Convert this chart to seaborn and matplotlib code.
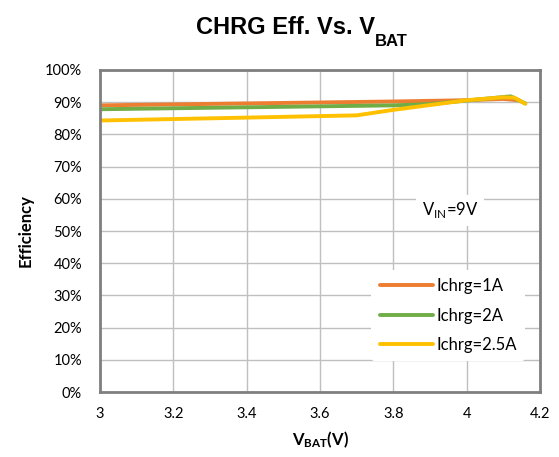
import numpy as np
import pandas as pd
import matplotlib
matplotlib.use("Agg")
import matplotlib.pyplot as plt
import seaborn as sns

# Data
vbat_1a = [3.0, 3.4, 3.8, 4.0, 4.1, 4.14]
eff_1a = [89.0, 89.6, 90.2, 90.6, 91.0, 90.6]

vbat_2a = [3.0, 3.4, 3.8, 3.9, 4.0, 4.12, 4.16]
eff_2a = [87.8, 88.4, 89.0, 89.4, 90.5, 91.8, 89.6]

vbat_25a = [3.0, 3.4, 3.7, 3.8, 4.0, 4.1, 4.13, 4.16]
eff_25a = [84.3, 85.2, 85.9, 87.6, 90.6, 91.5, 91.4, 89.5]

series_names = ["Ichrg=1A", "Ichrg=2A", "Ichrg=2.5A"]
palette = ["#ED7D31", "#70AD47", "#FFC000"]

df = pd.concat([
    pd.DataFrame({"vbat": vbat_1a, "eff": eff_1a, "series": series_names[0]}),
    pd.DataFrame({"vbat": vbat_2a, "eff": eff_2a, "series": series_names[1]}),
    pd.DataFrame({"vbat": vbat_25a, "eff": eff_25a, "series": series_names[2]}),
])

sns.set_theme(style="white")
plt.rcParams['font.family'] = ['Lato', 'DejaVu Sans']
plt.rcParams['text.color'] = 'black'
plt.rcParams['axes.labelcolor'] = 'black'
plt.rcParams['mathtext.fontset'] = 'custom'
plt.rcParams['mathtext.rm'] = 'Lato'
plt.rcParams['mathtext.bf'] = 'Lato:bold'

fig = plt.figure(figsize=(5.59, 4.57), dpi=100)
ax = fig.add_axes([0.179, 0.142, 0.787, 0.705])

sns.lineplot(data=df, x="vbat", y="eff", hue="series", palette=palette,
             linewidth=2.8, sort=False, estimator=None, ax=ax)

ax.set_xlim(3, 4.2)
ax.set_ylim(0, 100)
ax.set_xticks(np.arange(3, 4.21, 0.2))
ax.set_xticklabels(["3", "3.2", "3.4", "3.6", "3.8", "4", "4.2"])
ax.set_yticks(np.arange(0, 101, 10))
ax.set_yticklabels([f"{v}%" for v in range(0, 101, 10)])
ax.tick_params(axis='both', labelsize=10.5, colors='black', length=0)
ax.tick_params(axis='y', pad=13)
ax.tick_params(axis='x', pad=11)
ax.grid(True, color='#BFBFBF', linewidth=1.0)
for s in ax.spines.values():
    s.set_color('#7F7F7F')
    s.set_linewidth(2.0)

ax.set_xlabel(r"$\mathbf{V_{BAT}}$(V)", fontsize=12, fontweight='bold', labelpad=6)
ax.set_ylabel("Efficiency", fontsize=12, fontweight='bold', labelpad=8)

# title with manual subscript
title_font = ['Liberation Sans', 'DejaVu Sans']
t = fig.text(0.35, 0.925, "CHRG Eff. Vs. V", ha='left', va='baseline',
             fontsize=17, fontweight='bold', family=title_font)
ax.annotate("BAT", xy=(1, 0), xycoords=t, xytext=(0.5, -5), textcoords='offset points',
            ha='left', va='baseline', fontsize=12, fontweight='bold', family=title_font,
            annotation_clip=False)

ax.text(3.955, 56.5, r"V$_{\mathrm{IN}}$=9V", fontsize=12, ha='center', va='center',
        bbox=dict(facecolor='white', edgecolor='none', pad=4))

leg = ax.legend(loc='lower right', bbox_to_anchor=(0.985, 0.07), frameon=True,
                fontsize=12, handlelength=3.2, handletextpad=0.2, labelspacing=0.8,
                borderpad=0.5)
leg.get_frame().set_edgecolor('none')
leg.get_frame().set_facecolor('white')
leg.get_frame().set_alpha(1.0)

fig.savefig("out.png", dpi=100)
